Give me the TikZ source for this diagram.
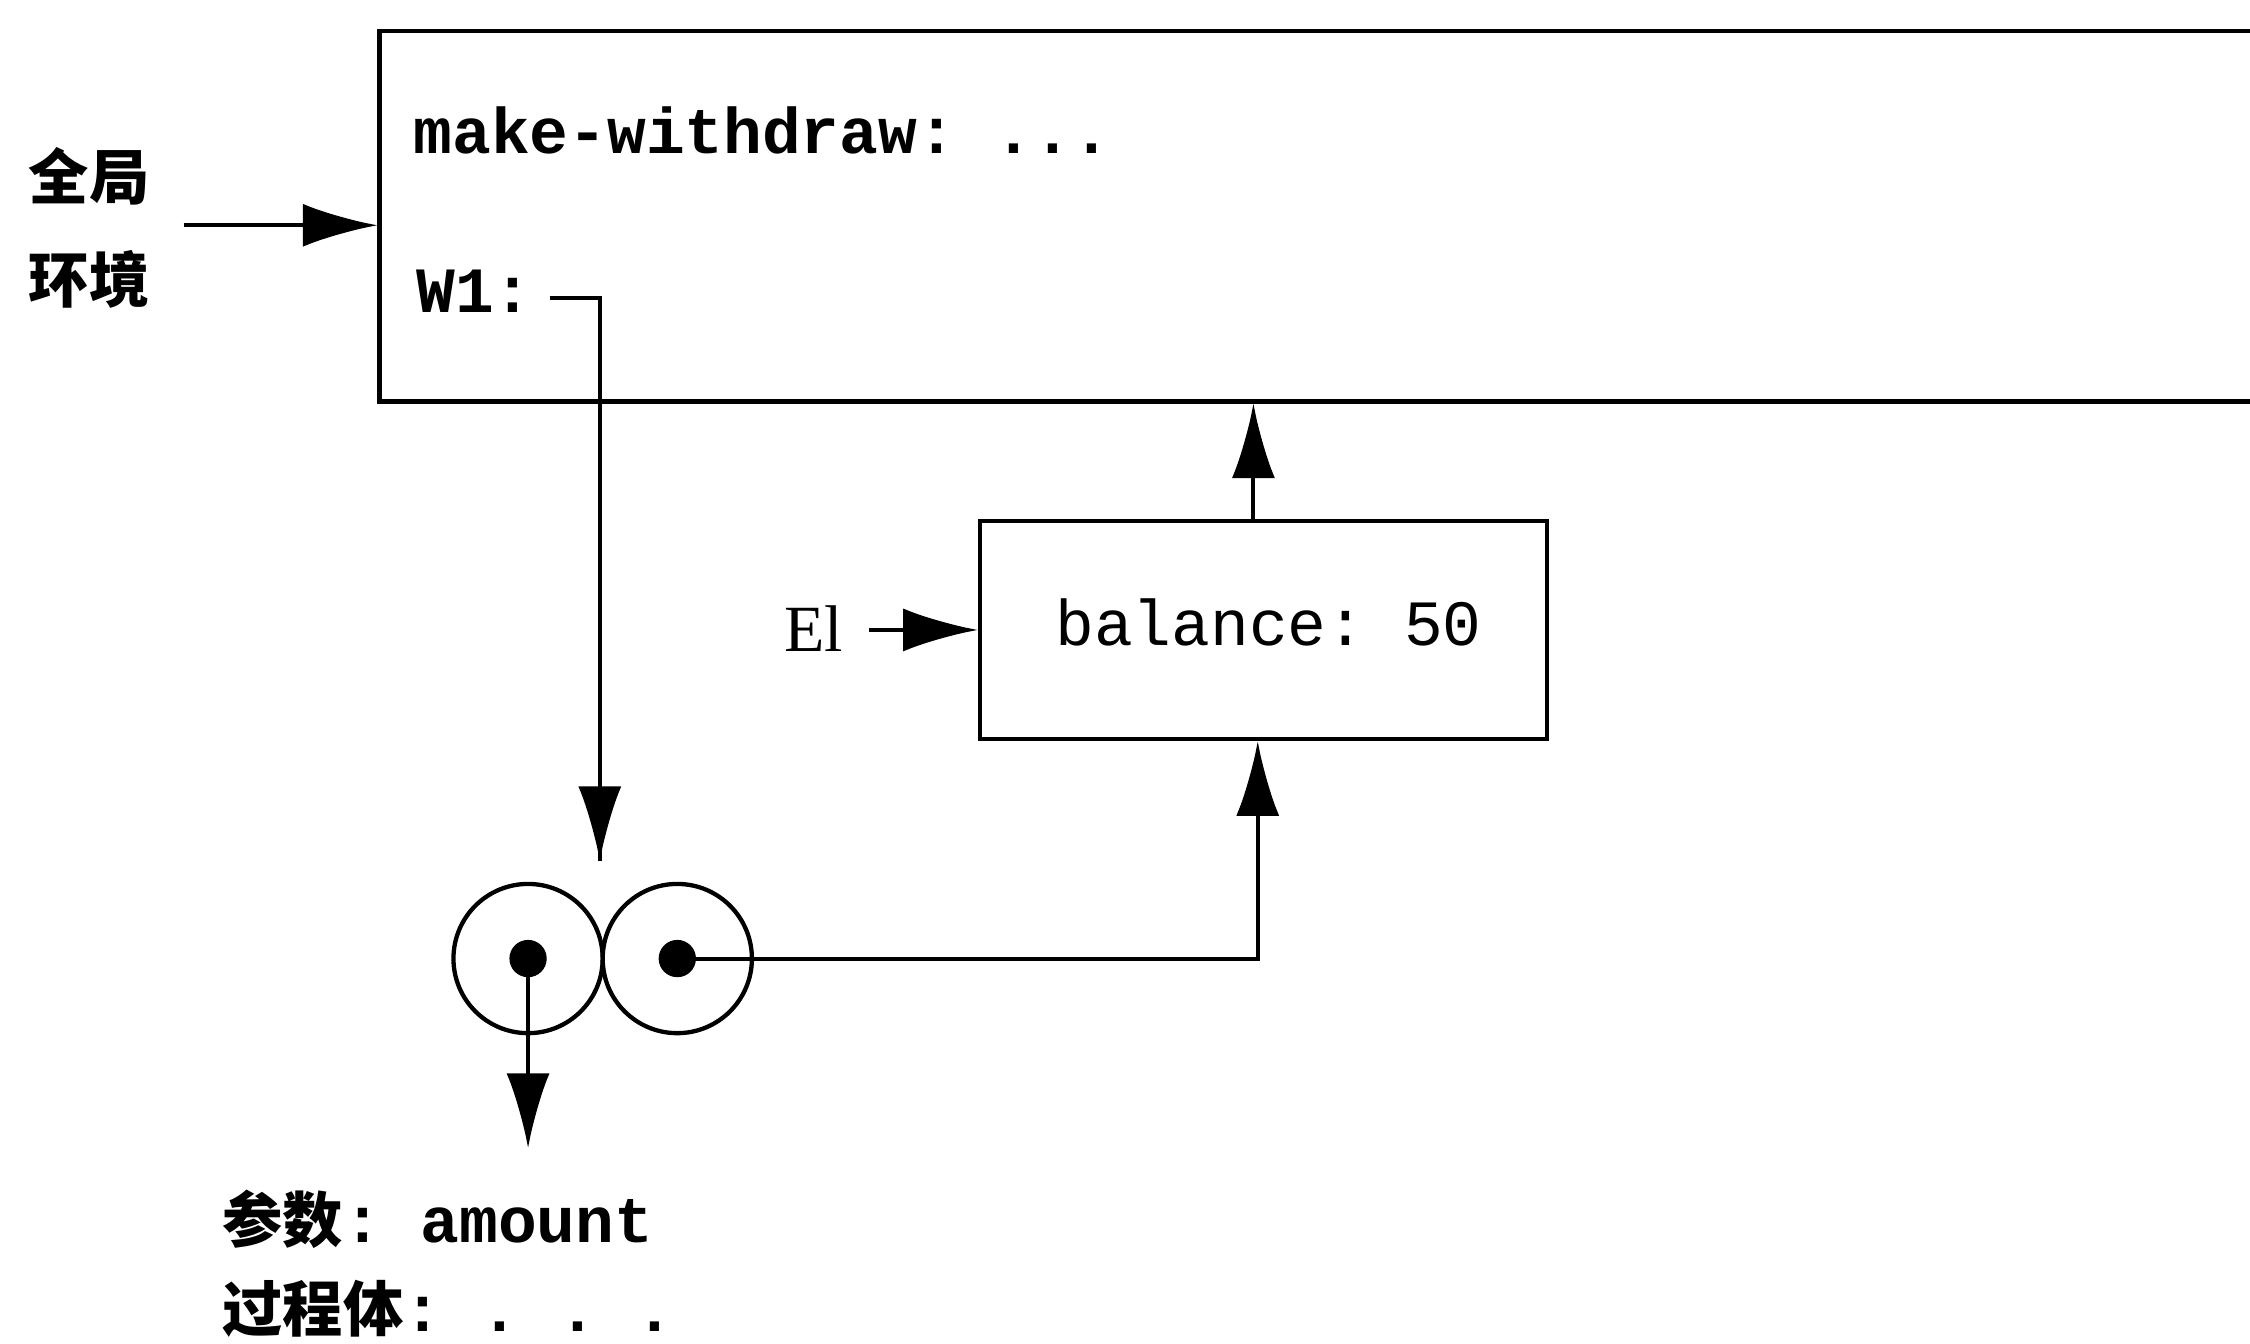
\documentclass[tikz,border=0pt]{standalone}
\usepackage{fontspec}
\setmainfont{Liberation Serif}
\setmonofont{Liberation Mono}
\newfontfamily\cjk{Noto Sans CJK SC}
\usetikzlibrary{arrows.meta}
\begin{document}
\begin{tikzpicture}[x=1pt,y=-1pt,
 box/.style={draw,line width=3.2pt,inner sep=0pt},
 arr/.style={line width=2.8pt,-{Latex[length=52pt,width=30pt]}},
 conn/.style={line width=2.8pt},
 mono/.style={font=\fontsize{45}{54}\selectfont\ttfamily\bfseries,inner sep=0pt},
 monol/.style={font=\fontsize{45}{54}\selectfont\ttfamily,inner sep=0pt},
 zh/.style={font=\fontsize{42}{50}\selectfont\cjk\bfseries,inner sep=0pt},
 lab/.style={font=\fontsize{46}{50}\selectfont,inner sep=0pt},
 ring/.style={circle,draw,line width=3pt,minimum size=104pt,inner sep=0pt},
 dot/.style={circle,fill,minimum size=26pt,inner sep=0pt}]
\useasboundingbox (0,0) rectangle (1568,936);
\clip (0,0) rectangle (1568,936);
% global frame
\node[box,anchor=north west,minimum width=1400pt,minimum height=258pt] (glob) at (263,20) {};
\node[mono,anchor=base west] (mw) at (288,107) {make-withdraw: ...};
\node[mono,anchor=base west] (w1) at (290,218) {W1:};
\node[zh,anchor=base west] (g1) at (20,139) {全局};
\node[zh,anchor=base west] (g2) at (20,211) {环境};
\coordinate (genv) at (128,157);
\draw[arr] (genv) -- (genv -| glob.west);
% E1 frame
\node[box,minimum width=395pt,minimum height=152pt] (bal) at (880.5,439) {};
\node[monol,anchor=base] (bt) at (884,450) {balance: 50};
\node[lab,anchor=base] (e1) at (567,454) {El};
\draw[arr,shorten <=18pt] (e1.east |- bal.west) -- (bal.west);
\draw[arr] ([xshift=-7pt]bal.north) -- ([xshift=-7pt]bal.north |- glob.south);
% procedure object
\node[ring] (cl) at (368,668) {};
\node[ring] (cr) at (472,668) {};
\node[dot] (dl) at (cl.center) {};
\node[dot] (dr) at (cr.center) {};
\coordinate (w1s) at (383,208);
\coordinate (ptop) at (418,600);
\draw[conn] (w1s) -| (ptop);
\draw[arr] (418,540) -- (ptop);
\draw[arr] (dr.center) -| ([xshift=-4pt]bal.south);
\coordinate (pdown) at (368,800);
\draw[arr] (dl.center) -- (pdown);
\node[anchor=base west,inner sep=0pt] (p1) at (155,866) {\fontsize{42}{50}\selectfont\cjk\bfseries 参数\fontsize{45}{54}\selectfont\ttfamily\bfseries: amount};
\node[anchor=base west,inner sep=0pt] (p2) at (155,928) {\fontsize{42}{50}\selectfont\cjk\bfseries 过程体\fontsize{45}{54}\selectfont\ttfamily\bfseries: . . .};
\end{tikzpicture}
\end{document}
